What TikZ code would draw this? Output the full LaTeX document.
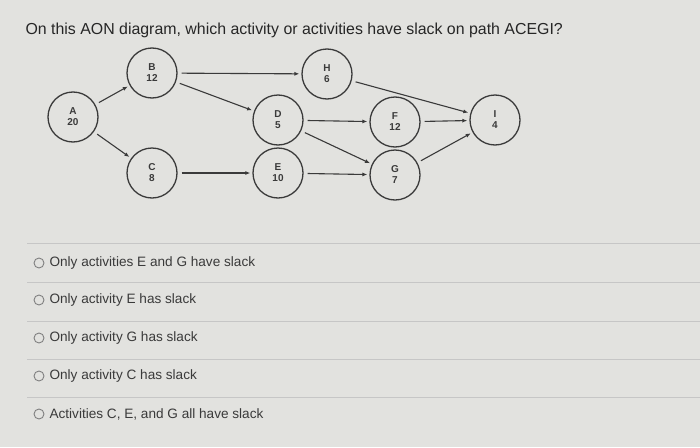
\documentclass[tikz,border=0pt]{standalone}
\usepackage{fontspec}
\setmainfont{Liberation Sans}
\usetikzlibrary{arrows.meta}
\definecolor{bg}{HTML}{E2E2DF}
\definecolor{ink}{HTML}{3A3A3A}
\begin{document}
\begin{tikzpicture}[x=1pt,y=-1pt,
  act/.style={circle,draw=ink,line width=1.3pt,minimum size=50pt,inner sep=0pt,align=center,font=\fontsize{10}{11}\selectfont\bfseries,text=ink},
  arr/.style={-{Latex[length=5pt,width=4pt]},draw=ink,line width=1.1pt,shorten <=4pt,shorten >=2pt},
  opt/.style={anchor=west,font=\fontsize{13.6}{15}\selectfont,text=ink},
  radio/.style={circle,draw=gray,line width=0.9pt,minimum size=10pt,inner sep=0pt},
  sep/.style={draw=gray!45,line width=0.8pt}]
\fill[bg] (0,0) rectangle (700,447);
\useasboundingbox (0,0) rectangle (700,447);
\node[anchor=west,font=\fontsize{15.9}{18}\selectfont,text=black!85] (title) at (22,30) {On this AON diagram, which activity or activities have slack on path ACEGI?};
\node[act] (A) at (73,117) {A\\20};
\node[act] (B) at (152,73) {B\\12};
\node[act] (C) at (152,173) {C\\8};
\node[act] (D) at (278,120) {D\\5};
\node[act] (E) at (278,173) {E\\10};
\node[act] (H) at (327,74) {H\\6};
\node[act] (F) at (395,122) {F\\12};
\node[act] (G) at (395,175) {G\\7};
\node[act] (I) at (495,120) {I\\4};
\draw[arr] (A) -- (B);
\draw[arr] (A) -- (C);
\draw[arr] (B) -- (H);
\draw[arr] (B) -- (D);
\draw[arr] (C) -- (E);
\draw[arr] (D) -- (F);
\draw[arr] (D) -- (G);
\draw[arr] (E) -- (G);
\draw[arr] (H) -- (I);
\draw[arr] (F) -- (I);
\draw[arr] (G) -- (I);
\foreach \y in {243,282,321,359,397} \draw[sep] (27,\y) -- (700,\y);
\node[radio] (r1) at (39,263) {}; \node[opt] (o1) at (46,263) {Only activities E and G have slack};
\node[radio] (r2) at (39,300) {}; \node[opt] (o2) at (46,300) {Only activity E has slack};
\node[radio] (r3) at (39,338) {}; \node[opt] (o3) at (46,338) {Only activity G has slack};
\node[radio] (r4) at (39,376) {}; \node[opt] (o4) at (46,376) {Only activity C has slack};
\node[radio] (r5) at (39,414) {}; \node[opt] (o5) at (46,414) {Activities C, E, and G all have slack};
\end{tikzpicture}
\end{document}
